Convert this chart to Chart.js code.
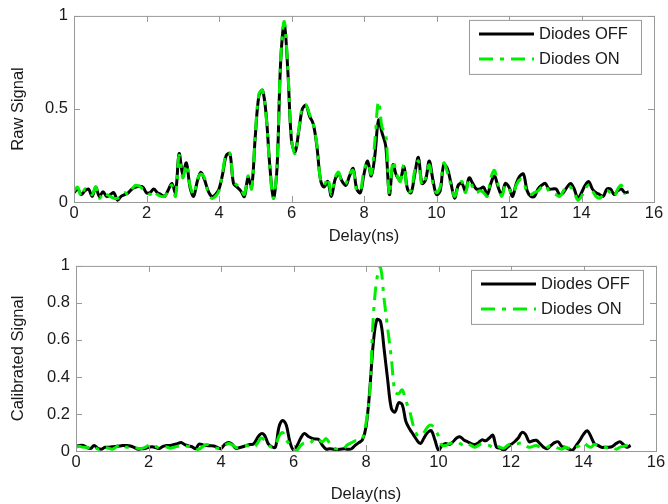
<!DOCTYPE html>
<html>
<head>
<meta charset="utf-8">
<script src="https://cdn.jsdelivr.net/npm/chart.js@4.4.0/dist/chart.umd.min.js"></script>
<style>
  html, body { margin: 0; padding: 0; background: #fff; }
  #wrap { position: relative; width: 668px; height: 504px; }
  canvas { position: absolute; left: 0; }
</style>
</head>
<body>
<div id="wrap">
  <canvas id="raw" width="668" height="250" style="top:0"></canvas>
  <canvas id="cal" width="668" height="254" style="top:250px"></canvas>
</div>
<script>
// delay axis (ns)
const delay = [
  0.0, 0.1, 0.2, 0.3, 0.4, 0.5, 0.6, 0.7, 0.8, 0.9,
  1.0, 1.1, 1.2, 1.3, 1.4, 1.5, 1.6, 1.7, 1.8, 1.9,
  2.0, 2.1, 2.2, 2.3, 2.4, 2.5, 2.6, 2.7, 2.8, 2.9,
  3.0, 3.1, 3.2, 3.3, 3.4, 3.5, 3.6, 3.7, 3.8, 3.9,
  4.0, 4.1, 4.2, 4.3, 4.4, 4.5, 4.6, 4.7, 4.8, 4.9,
  5.0, 5.1, 5.2, 5.3, 5.4, 5.5, 5.6, 5.7, 5.8, 5.9,
  6.0, 6.1, 6.2, 6.3, 6.4, 6.5, 6.6, 6.7, 6.8, 6.9,
  7.0, 7.1, 7.2, 7.3, 7.4, 7.5, 7.6, 7.7, 7.8, 7.9,
  8.0, 8.1, 8.2, 8.3, 8.4, 8.5, 8.6, 8.7, 8.8, 8.9,
  9.0, 9.1, 9.2, 9.3, 9.4, 9.5, 9.6, 9.7, 9.8, 9.9,
  10.0, 10.1, 10.2, 10.3, 10.4, 10.5, 10.6, 10.7, 10.8, 10.9,
  11.0, 11.1, 11.2, 11.3, 11.4, 11.5, 11.6, 11.7, 11.8, 11.9,
  12.0, 12.1, 12.2, 12.3, 12.4, 12.5, 12.6, 12.7, 12.8, 12.9,
  13.0, 13.1, 13.2, 13.3, 13.4, 13.5, 13.6, 13.7, 13.8, 13.9,
  14.0, 14.1, 14.2, 14.3, 14.4, 14.5, 14.6, 14.7, 14.8, 14.9,
  15.0, 15.1, 15.2, 15.3
];

const seriesNames = ['Diodes OFF', 'Diodes ON'];

// raw signal
const rawOff = [
  0.05, 0.07, 0.04, 0.06, 0.07, 0.03, 0.08, 0.03, 0.055, 0.03,
  0.04, 0.05, 0.01, 0.03, 0.04, 0.05, 0.07, 0.08, 0.085, 0.08,
  0.05, 0.05, 0.07, 0.05, 0.04, 0.03, 0.065, 0.10, 0.05, 0.26,
  0.15, 0.21, 0.08, 0.03, 0.11, 0.16, 0.12, 0.06, 0.03, 0.04,
  0.07, 0.15, 0.25, 0.26, 0.10, 0.08, 0.06, 0.03, 0.13, 0.08,
  0.35, 0.57, 0.60, 0.47, 0.20, 0.02, 0.18, 0.75, 0.96, 0.70,
  0.33, 0.27, 0.38, 0.50, 0.52, 0.46, 0.42, 0.30, 0.12, 0.08,
  0.11, 0.03, 0.12, 0.15, 0.11, 0.09, 0.14, 0.18, 0.07, 0.05,
  0.15, 0.22, 0.14, 0.25, 0.44, 0.37, 0.30, 0.04, 0.20, 0.14,
  0.12, 0.19, 0.07, 0.05, 0.15, 0.24, 0.10, 0.12, 0.22, 0.12,
  0.04, 0.06, 0.20, 0.18, 0.10, 0.02, 0.09, 0.10, 0.06, 0.13,
  0.10, 0.07, 0.07, 0.08, 0.04, 0.10, 0.14, 0.08, 0.04, 0.10,
  0.08, 0.03, 0.10, 0.14, 0.15, 0.06, 0.03, 0.03, 0.07, 0.09,
  0.10, 0.07, 0.07, 0.07, 0.04, 0.05, 0.08, 0.10, 0.07, 0.02,
  0.05, 0.09, 0.11, 0.07, 0.05, 0.04, 0.03, 0.07, 0.07, 0.04,
  0.06, 0.07, 0.05, 0.055
];
const rawOn = [
  0.06, 0.08, 0.03, 0.07, 0.06, 0.04, 0.08, 0.02, 0.05, 0.04,
  0.03, 0.02, 0.02, 0.03, 0.05, 0.04, 0.07, 0.09, 0.085, 0.07,
  0.06, 0.04, 0.06, 0.04, 0.03, 0.03, 0.06, 0.09, 0.03, 0.25,
  0.13, 0.20, 0.09, 0.04, 0.12, 0.15, 0.13, 0.05, 0.02, 0.03,
  0.06, 0.16, 0.26, 0.26, 0.11, 0.09, 0.07, 0.04, 0.14, 0.07,
  0.36, 0.58, 0.60, 0.46, 0.19, 0.02, 0.19, 0.76, 0.97, 0.71,
  0.34, 0.26, 0.39, 0.51, 0.52, 0.47, 0.42, 0.31, 0.12, 0.09,
  0.13, 0.04, 0.13, 0.16, 0.10, 0.10, 0.15, 0.17, 0.06, 0.06,
  0.17, 0.21, 0.15, 0.33, 0.54, 0.40, 0.37, 0.04, 0.22, 0.15,
  0.11, 0.20, 0.06, 0.06, 0.17, 0.22, 0.09, 0.13, 0.20, 0.10,
  0.05, 0.08, 0.21, 0.16, 0.09, 0.03, 0.08, 0.11, 0.05, 0.12,
  0.08, 0.05, 0.06, 0.05, 0.03, 0.13, 0.17, 0.09, 0.03, 0.09,
  0.07, 0.04, 0.09, 0.12, 0.11, 0.05, 0.04, 0.05, 0.06, 0.08,
  0.09, 0.06, 0.05, 0.04, 0.03, 0.06, 0.09, 0.08, 0.05, 0.01,
  0.03, 0.07, 0.09, 0.06, 0.03, 0.02, 0.04, 0.06, 0.05, 0.03,
  0.07, 0.09, 0.04
];

// calibrated signal
const calOff = [
  0.023, 0.03, 0.03, 0.02, 0.013, 0.03, 0.015, 0.01, 0.02, 0.02,
  0.023, 0.025, 0.027, 0.03, 0.03, 0.027, 0.02, 0.01, 0.012, 0.013,
  0.02, 0.023, 0.018, 0.013, 0.025, 0.03, 0.03, 0.035, 0.04, 0.046,
  0.035, 0.028, 0.023, 0.013, 0.038, 0.033, 0.03, 0.028, 0.027, 0.02,
  0.013, 0.035, 0.046, 0.038, 0.015, 0.018, 0.023, 0.03, 0.035, 0.038,
  0.07, 0.093, 0.085, 0.04, 0.023, 0.02, 0.13, 0.165, 0.14, 0.05,
  0.005, 0.03, 0.07, 0.095, 0.08, 0.07, 0.065, 0.062, 0.03, 0.01,
  0.012, 0.01, 0.008, 0.01, 0.012, 0.01, 0.012, 0.03, 0.045, 0.06,
  0.13, 0.32, 0.58, 0.71, 0.70, 0.55, 0.38, 0.23, 0.21, 0.26,
  0.25, 0.16, 0.12, 0.09, 0.06, 0.04, 0.07, 0.10, 0.11, 0.06,
  0.005, 0.03, 0.04, 0.035, 0.05, 0.07, 0.076, 0.06, 0.05, 0.04,
  0.035, 0.045, 0.06, 0.055, 0.07, 0.085, 0.02, 0.015, 0.005, 0.02,
  0.035, 0.05, 0.07, 0.10, 0.09, 0.05, 0.055, 0.058, 0.04, 0.02,
  0.012, 0.03, 0.045, 0.05, 0.025, 0.02, 0.01, 0.005, 0.03, 0.058,
  0.09, 0.11, 0.08, 0.04, 0.03, 0.02, 0.02, 0.02, 0.025, 0.04,
  0.05, 0.035, 0.02, 0.03
];
const calOn = [
  0.02, 0.025, 0.02, 0.02, 0.015, 0.025, 0.01, 0.015, 0.02, 0.015,
  0.01, 0.02, 0.035, 0.03, 0.02, 0.025, 0.018, 0.015, 0.012, 0.02,
  0.03, 0.035, 0.025, 0.015, 0.02, 0.022, 0.015, 0.02, 0.025, 0.03,
  0.028, 0.025, 0.02, 0.01, 0.01, 0.025, 0.035, 0.03, 0.02, 0.015,
  0.02, 0.03, 0.04, 0.035, 0.02, 0.02, 0.025, 0.03, 0.025, 0.02,
  0.04, 0.07, 0.06, 0.035, 0.02, 0.03, 0.08, 0.10, 0.06, 0.035,
  0.01, 0.005, 0.03, 0.045, 0.04, 0.05, 0.07, 0.06, 0.05, 0.067,
  0.04, 0.02, 0.01, 0.008, 0.015, 0.035, 0.045, 0.055, 0.058, 0.065,
  0.15, 0.30, 0.72, 0.93, 0.99, 0.82, 0.66, 0.50, 0.32, 0.31,
  0.33, 0.27, 0.22, 0.14, 0.09, 0.08, 0.10, 0.13, 0.14, 0.12,
  0.08, 0.03, 0.03, 0.04, 0.045, 0.05, 0.04, 0.03, 0.04, 0.03,
  0.02, 0.03, 0.04, 0.035, 0.03, 0.02, 0.03, 0.02, 0.015, 0.03,
  0.04, 0.035, 0.04, 0.045, 0.03, 0.02, 0.025, 0.03, 0.02, 0.015,
  0.02, 0.03, 0.025, 0.015, 0.01, 0.02, 0.015, 0.01, 0.02, 0.03,
  0.045, 0.03, 0.02, 0.035, 0.03, 0.025, 0.02, 0.015, 0.02, 0.01,
  0.02, 0.025, 0.03, 0.03
];

Chart.defaults.font.family = '"Liberation Sans", Arial, sans-serif';
Chart.defaults.font.size = 16.5;
Chart.defaults.color = '#1a1a1a';

function pares(ys) {
  return ys.map((y, i) => ({ x: delay[i], y: y }));
}

function linha(ctx, x1, y1, x2, y2) {
  ctx.beginPath();
  ctx.moveTo(x1, y1);
  ctx.lineTo(x2, y2);
  ctx.stroke();
}

// box, inward ticks and legend, like the matlab axes
const caixaPlugin = {
  id: 'caixa',
  afterDatasetsDraw(chart) {
    const { ctx, chartArea: a, scales: { x, y } } = chart;
    ctx.save();
    ctx.strokeStyle = '#999999';
    ctx.lineWidth = 1;
    ctx.setLineDash([]);
    ctx.strokeRect(a.left + 0.5, a.top + 0.5, a.right - a.left, a.bottom - a.top);
    x.ticks.forEach((t) => {
      const px = Math.round(x.getPixelForValue(t.value)) + 0.5;
      linha(ctx, px, a.bottom, px, a.bottom - 6);
      linha(ctx, px, a.top, px, a.top + 6);
    });
    y.ticks.forEach((t) => {
      const py = Math.round(y.getPixelForValue(t.value)) + 0.5;
      linha(ctx, a.left, py, a.left + 6, py);
      linha(ctx, a.right, py, a.right - 6, py);
    });

    const bw = 172, bh = 54;
    const bx = a.right - 13 - bw;
    const by = a.top + 4;
    ctx.fillStyle = '#fff';
    ctx.fillRect(bx, by, bw, bh);
    ctx.strokeRect(bx + 0.5, by + 0.5, bw, bh);
    ctx.font = '16.5px "Liberation Sans", Arial, sans-serif';
    ctx.textBaseline = 'middle';
    chart.data.datasets.forEach((ds, i) => {
      const ly = by + 14 + i * 25;
      ctx.strokeStyle = ds.borderColor;
      ctx.lineWidth = ds.borderWidth;
      ctx.setLineDash(ds.borderDash || []);
      linha(ctx, bx + 10, ly, bx + 65, ly);
      ctx.setLineDash([]);
      ctx.fillStyle = '#1a1a1a';
      ctx.fillText(ds.label, bx + 70, ly + 1);
    });
    ctx.restore();
  }
};

function montarGrafico(canvas, offVals, onVals, tituloY, passoY, pad, larguraY, alturaX, padTituloX) {
  return new Chart(canvas, {
    type: 'line',
    data: {
      datasets: [
        {
          label: seriesNames[0],
          data: pares(offVals),
          borderColor: '#000000',
          borderWidth: 3,
          pointRadius: 0,
          tension: 0.35,
          order: 1,
        },
        {
          label: seriesNames[1],
          data: pares(onVals),
          borderColor: '#00ee00',
          borderWidth: 3,
          borderDash: [14, 7, 4, 7],
          pointRadius: 0,
          tension: 0.35,
          order: 0,
        },
      ],
    },
    options: {
      responsive: false,
      animation: false,
      layout: { padding: pad },
      plugins: { legend: { display: false }, tooltip: { enabled: false } },
      scales: {
        x: {
          type: 'linear',
          min: 0,
          max: 16,
          grid: { display: false, drawTicks: false },
          border: { display: false },
          ticks: { stepSize: 2, padding: 2, maxRotation: 0 },
          title: { display: true, text: 'Delay(ns)', padding: { top: 0, bottom: padTituloX } },
          afterFit: (s) => { s.height = alturaX; },
        },
        y: {
          min: 0,
          max: 1,
          grid: { display: false, drawTicks: false },
          border: { display: false },
          ticks: {
            stepSize: passoY,
            padding: 6,
            callback: (v) => String(Number(v.toFixed(2))),
          },
          title: { display: true, text: tituloY, padding: { top: 9, bottom: 0 } },
          afterFit: (s) => { s.width = larguraY; },
        },
      },
    },
    plugins: [caixaPlugin],
  });
}

montarGrafico(document.getElementById('raw'), rawOff, rawOn, 'Raw Signal', 0.5,
  { top: 15, right: 14, left: 0, bottom: 0 }, 74, 48, 4);
montarGrafico(document.getElementById('cal'), calOff, calOn, 'Calibrated Signal', 0.2,
  { top: 12, right: 12, left: 0, bottom: 0 }, 76, 53, 0);
</script>
</body>
</html>
